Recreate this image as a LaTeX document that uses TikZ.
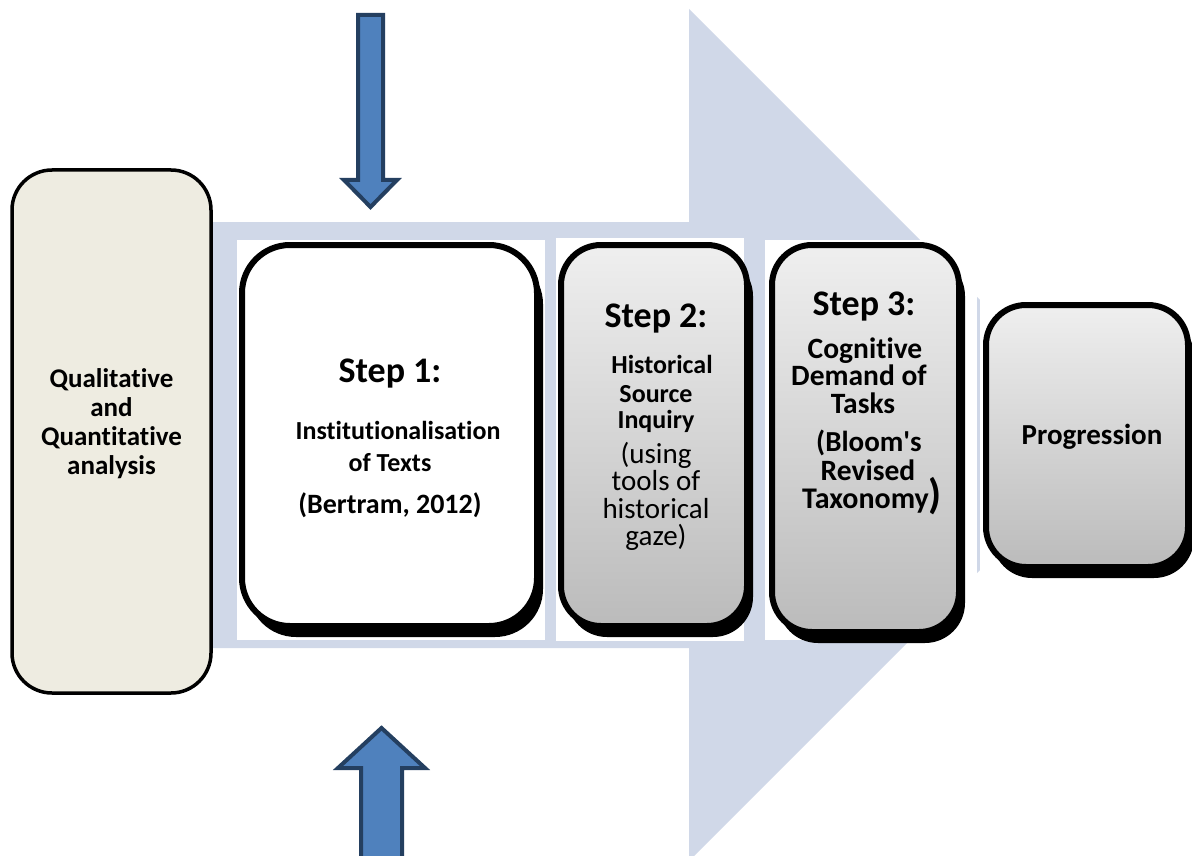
\documentclass[tikz,border=0pt]{standalone}
\usepackage{fontspec}
\setmainfont{Carlito}[Ligatures={NoCommon}]
\newfontfamily\nomapfont{Carlito}[Ligatures={NoCommon}]
\usetikzlibrary{shadows}
\definecolor{arrowbg}{HTML}{D0D8E8}
\definecolor{beigefill}{HTML}{EEECE1}
\definecolor{gtop}{HTML}{EFEFEF}
\definecolor{gbot}{HTML}{BBBBBB}
\definecolor{bluefill}{HTML}{4F81BD}
\definecolor{blueline}{HTML}{243F60}
\newcommand\fsz[1]{\fontsize{#1}{#1}\selectfont}
\tikzset{
  bigarrow/.style={fill=arrowbg, draw=none},
  whitebg/.style={fill=white, draw=none},
  stepbox/.style={draw=black, line width=6pt, rounded corners=40pt, inner sep=0pt,
    drop shadow={shadow xshift=6pt, shadow yshift=-11pt, fill=black, opacity=1}},
  greybox/.style={stepbox, top color=gtop, bottom color=gbot},
  leftbox/.style={draw=black, line width=3.5pt, rounded corners=40pt, inner sep=0pt, fill=beigefill},
  blockarrow/.style={fill=bluefill, draw=blueline, line width=4pt, line join=miter},
  txt/.style={anchor=base, inner sep=0pt, text depth=0pt, font=\bfseries},
}
\begin{document}
\begin{tikzpicture}[x=1pt, y=-1pt]
\useasboundingbox (0,0) rectangle (1192,856);
\clip (0,0) rectangle (1192,856);
\fill[white] (0,0) rectangle (1192,856);
% big background arrow
\path[bigarrow] (205,222) -- (689,222) -- (689,9) -- (1115,435) -- (689,861) -- (689,648) -- (205,648) -- cycle;
% white backgrounds of the steps
\path[whitebg] (237,240) rectangle (545,640);
\path[whitebg] (556,238) rectangle (744,641);
\path[whitebg] (765,240) rectangle (977,640);
\path[whitebg] (980,290) rectangle (1192,582);
% boxes
\node[leftbox, minimum width=199pt, minimum height=523pt] (qq) at (111.5,431.5) {};
\node[stepbox, fill=white, rounded corners=48pt, minimum width=295pt, minimum height=381pt] (s1) at (389.5,435.5) {};
\node[greybox, minimum width=186pt, minimum height=381pt] (s2) at (654,435.5) {};
\node[greybox, minimum width=187pt, minimum height=387pt] (s3) at (865.5,438.5) {};
\node[greybox, minimum width=202pt, minimum height=262pt] (pr) at (1087,436) {};
% left box text
\node[txt, font=\fsz{27}\bfseries] (qq1) at (111.5,387) {Qualitative};
\node[txt, font=\fsz{27}\bfseries] (qq2) at (111.5,416) {and};
\node[txt, font=\fsz{27}\bfseries] (qq3) at (111.5,445) {Quantitative};
\node[txt, font=\fsz{27}\bfseries] (qq4) at (111.5,474) {analysis};
% step 1 text
\node[txt, font=\fsz{36}\bfseries] (s1t) at (390,382) {Step 1:};
\node[txt, font=\fsz{26}\bfseries] (s1a) at (398,439) {Institutionalisation};
\node[txt, font=\fsz{26}\bfseries] (s1b) at (390,471) {of Texts};
\node[txt, font=\fsz{28}\bfseries] (s1c) at (390,513) {(Bertram, 2012)};
% step 2 text
\node[txt, font=\fsz{36}\bfseries] (s2t) at (656,327) {Step 2:};
\node[txt, font=\fsz{26}\bfseries] (s2a) at (662,373) {Historical};
\node[txt, font=\fsz{26}\bfseries] (s2b) at (656,402) {Source};
\node[txt, font=\fsz{26}\bfseries] (s2c) at (656,428) {Inquiry};
\node[txt, font=\fsz{29}] (s2d) at (656,463) {(using};
\node[txt, font=\fsz{29}] (s2e) at (656,490) {tools of};
\node[txt, font=\fsz{29}] (s2f) at (656,518) {historical};
\node[txt, font=\fsz{29}] (s2g) at (656,545) {gaze)};
% step 3 text
\node[txt, font=\fsz{36}\bfseries] (s3t) at (864,315) {Step 3:};
\node[txt, font=\fsz{29.5}\bfseries] (s3a) at (865,358) {Cognitive};
\node[txt, font=\fsz{29.5}\bfseries] (s3b) at (859,385) {Demand of};
\node[txt, font=\fsz{29.5}\bfseries] (s3c) at (863,413) {Tasks};
\node[txt, font=\nomapfont\fsz{29}\bfseries] (s3d) at (869,451) {(Bloom's};
\node[txt, font=\fsz{29.5}\bfseries] (s3e) at (868,480) {Revised};
\node[txt, anchor=base west, font=\fsz{30}\bfseries] (s3f) at (802,508) {Taxonomy{\fsz{42})}};
% progression text
\node[txt, font=\fsz{29}\bfseries] (prt) at (1092,444) {Progression};
% blue block arrows
\path[blockarrow] (358,15) -- (383,15) -- (383,180) -- (397,180) -- (370.5,207) -- (344,180) -- (358,180) -- cycle;
\path[blockarrow] (361,856) -- (361,768) -- (338,768) -- (381.5,728) -- (425,768) -- (402,768) -- (402,856);
\end{tikzpicture}
\end{document}
